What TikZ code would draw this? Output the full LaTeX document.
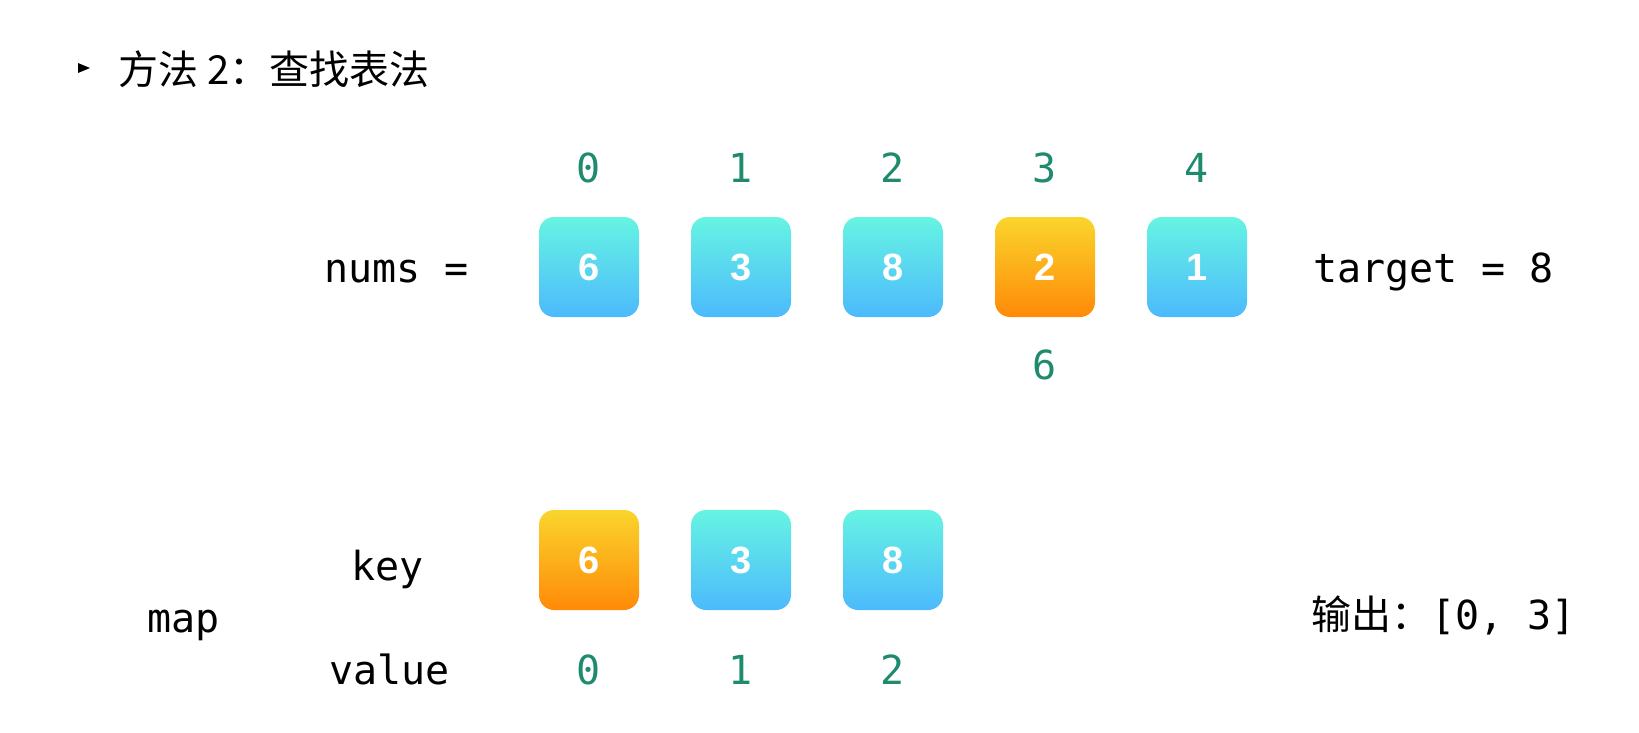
\documentclass[tikz,border=0pt]{standalone}
\usepackage{fontspec}
\newfontfamily\cjk{Noto Sans CJK SC}
\newfontfamily\mono{DejaVu Sans Mono}
\newfontfamily\boxfont{Liberation Sans}
\newcommand\cellfont{\fontsize{38}{44}\selectfont\boxfont\bfseries}
\definecolor{idxgreen}{HTML}{1E8A6E}
\definecolor{cyantop}{HTML}{66F4E3}
\definecolor{bluebot}{HTML}{4CBAFC}
\definecolor{orangetop}{HTML}{FAD52C}
\definecolor{orangebot}{HTML}{FF8A08}
\tikzset{
  cell/.style={rounded corners=15pt, minimum width=100pt, minimum height=100pt, inner sep=0pt,
    text=white, font=\cellfont},
  cyancell/.style={cell, top color=cyantop, bottom color=bluebot},
  orangecell/.style={cell, top color=orangetop, bottom color=orangebot},
  lbl/.style={inner sep=0pt, anchor=base west, font=\mono\fontsize{40}{48}\selectfont},
  idx/.style={inner sep=0pt, anchor=base, text=idxgreen, font=\mono\fontsize{40}{48}\selectfont},
  head/.style={inner sep=0pt, anchor=base west, font=\cjk\fontsize{40}{48}\selectfont},
}
\begin{document}
\begin{tikzpicture}[x=1pt,y=-1pt]
\useasboundingbox (0,0) rectangle (1639,732);
% heading
\fill (78,63) -- (90,68) -- (78,73) -- cycle;
\node[head] (title) at (118,84) {方法 2：查找表法};
% nums row
\node[lbl] (nums) at (324,282) {nums =};
\node[cyancell] (n0) at (589,267) {6};
\node[cyancell] (n1) at (741,267) {3};
\node[cyancell] (n2) at (893,267) {8};
\node[orangecell] (n3) at (1045,267) {2};
\node[cyancell] (n4) at (1197,267) {1};
\node[lbl] (target) at (1313,282) {target = 8};
% indices
\node[idx] (i0) at (589,182) {0};
\node[idx] (i1) at (741,182) {1};
\node[idx] (i2) at (893,182) {2};
\node[idx] (i3) at (1045,182) {3};
\node[idx] (i4) at (1197,182) {4};
\node[idx] (need) at (1045,379) {6};
% map
\node[lbl] (map) at (147,632) {map};
\node[lbl] (key) at (351,580) {key};
\node[lbl] (value) at (329,684) {value};
\node[orangecell] (k0) at (589,560) {6};
\node[cyancell] (k1) at (741,560) {3};
\node[cyancell] (k2) at (893,560) {8};
\node[idx] (v0) at (589,684) {0};
\node[idx] (v1) at (741,684) {1};
\node[idx] (v2) at (893,684) {2};
% output
\node[inner sep=0pt, anchor=base west] (out) at (1311,629) {{\cjk\fontsize{40}{48}\selectfont 输出：}{\mono\fontsize{40}{48}\selectfont [0, 3]}};
\end{tikzpicture}
\end{document}
